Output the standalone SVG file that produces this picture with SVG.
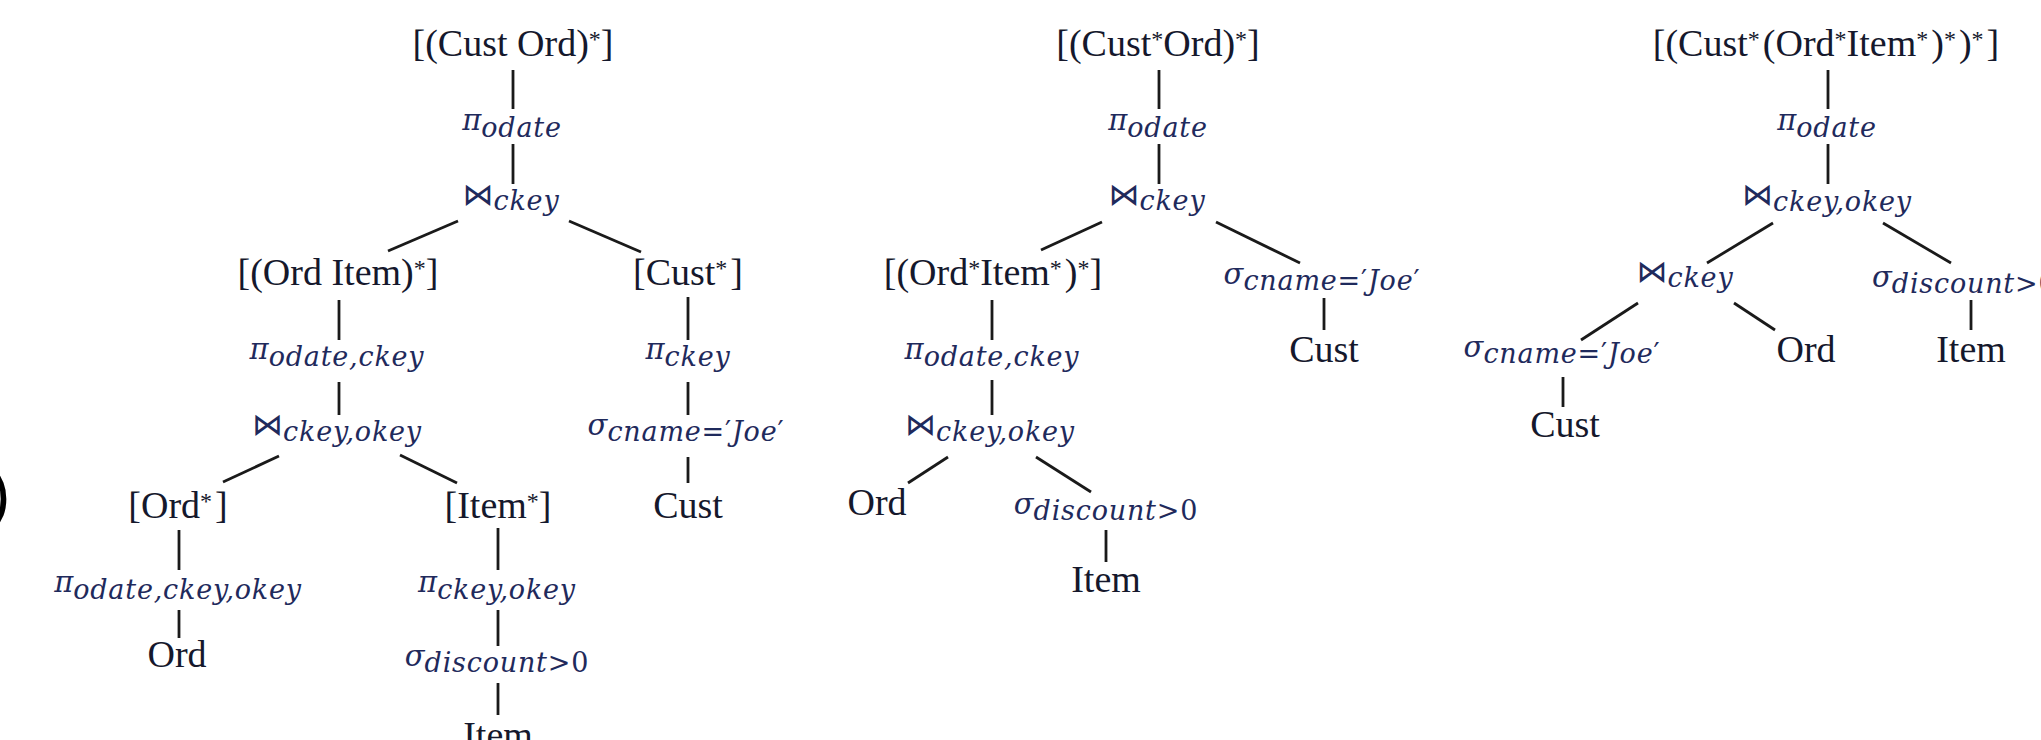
<svg xmlns="http://www.w3.org/2000/svg" width="2041" height="740" viewBox="0 0 2041 740">
<style>
.r{font-family:"Liberation Serif","Times New Roman",serif;font-size:38px;fill:#15182c}
.st{font-size:24px}
.m{font-family:"DejaVu Serif",serif;font-size:29px;fill:#1f2a5c;font-style:italic}
.s{font-size:27px;font-style:italic;letter-spacing:0.8px}
.u{font-style:normal}
.bt{font-family:"DejaVu Sans",sans-serif;font-style:normal;font-size:31px}
.cut{font-family:"Liberation Sans",Arial,sans-serif;font-size:64px;fill:#000}
#connectors line{stroke:#1a1a1a;stroke-width:2.8;stroke-linecap:butt}
</style>
<rect width="2041" height="740" fill="#fff"/>
<g id="connectors">
<!-- tree 1 -->
<line x1="513" y1="70" x2="513" y2="109"/>
<line x1="513" y1="144" x2="513" y2="184"/>
<line x1="458" y1="221" x2="388" y2="251"/>
<line x1="569" y1="221" x2="641" y2="252"/>
<line x1="339" y1="300" x2="339" y2="340"/>
<line x1="339" y1="382" x2="339" y2="415"/>
<line x1="688" y1="297" x2="688" y2="340"/>
<line x1="688" y1="382" x2="688" y2="415"/>
<line x1="688" y1="457" x2="688" y2="483"/>
<line x1="279" y1="456" x2="223" y2="482"/>
<line x1="400" y1="455" x2="457" y2="483"/>
<line x1="179" y1="530" x2="179" y2="570"/>
<line x1="498" y1="528" x2="498" y2="570"/>
<line x1="179" y1="610" x2="179" y2="638"/>
<line x1="498" y1="610" x2="498" y2="646"/>
<line x1="498" y1="683" x2="498" y2="715"/>
<!-- tree 2 -->
<line x1="1159" y1="70" x2="1159" y2="109"/>
<line x1="1159" y1="144" x2="1159" y2="184"/>
<line x1="1102" y1="222" x2="1041" y2="250"/>
<line x1="1216" y1="222" x2="1300" y2="263"/>
<line x1="992" y1="300" x2="992" y2="340"/>
<line x1="992" y1="380" x2="992" y2="415"/>
<line x1="1324" y1="298" x2="1324" y2="330"/>
<line x1="948" y1="457" x2="908" y2="483"/>
<line x1="1036" y1="457" x2="1091" y2="492"/>
<line x1="1106" y1="530" x2="1106" y2="562"/>
<!-- tree 3 -->
<line x1="1828" y1="70" x2="1828" y2="109"/>
<line x1="1828" y1="144" x2="1828" y2="184"/>
<line x1="1773" y1="223" x2="1707" y2="263"/>
<line x1="1883" y1="223" x2="1951" y2="263"/>
<line x1="1638" y1="303" x2="1581" y2="340"/>
<line x1="1734" y1="303" x2="1775" y2="330"/>
<line x1="1971" y1="300" x2="1971" y2="330"/>
<line x1="1563" y1="377" x2="1563" y2="407"/>
</g>

<g id="cut-label"><text class="cut" x="-11" y="516">)</text></g>

<!-- Tree 1 -->
<g id="t1-root"><text class="r" x="513" y="56" text-anchor="middle">[(Cust Ord)<tspan class="st" dy="-9">*</tspan><tspan dy="9">]</tspan></text></g>
<g id="t1-proj"><text class="m" x="512" y="130" text-anchor="middle">π<tspan class="s" dy="7">odate</tspan></text></g>
<g id="t1-join"><text class="m" x="511" y="205" text-anchor="middle"><tspan class="bt">⋈</tspan><tspan class="s" dy="5">ckey</tspan></text></g>
<g id="t1-orditem"><text class="r" x="338" y="285" text-anchor="middle">[(Ord Item)<tspan class="st" dy="-9">*</tspan><tspan dy="9">]</tspan></text></g>
<g id="t1-custs"><text class="r" x="688" y="285" text-anchor="middle">[Cust<tspan class="st" dy="-9">*</tspan><tspan dy="9" dx="3">]</tspan></text></g>
<g id="t1-proj2"><text class="m" x="337" y="359" text-anchor="middle">π<tspan class="s" dy="7">odate,ckey</tspan></text></g>
<g id="t1-projckey"><text class="m" x="688" y="359" text-anchor="middle">π<tspan class="s" dy="7">ckey</tspan></text></g>
<g id="t1-join2"><text class="m" x="337" y="435" text-anchor="middle"><tspan class="bt">⋈</tspan><tspan class="s" dy="6">ckey,okey</tspan></text></g>
<g id="t1-selname"><text class="m" x="686" y="435" text-anchor="middle">σ<tspan class="s" dy="6">cname<tspan class="u">=′</tspan>Joe<tspan class="u">′</tspan></tspan></text></g>
<g id="t1-ords"><text class="r" x="178" y="518" text-anchor="middle">[Ord<tspan class="st" dy="-9">*</tspan><tspan dy="9" dx="3">]</tspan></text></g>
<g id="t1-items"><text class="r" x="498" y="518" text-anchor="middle">[Item<tspan class="st" dy="-9">*</tspan><tspan dy="9">]</tspan></text></g>
<g id="t1-cust"><text class="r" x="688" y="518" text-anchor="middle">Cust</text></g>
<g id="t1-proj3"><text class="m" x="178" y="592" text-anchor="middle">π<tspan class="s" dy="7">odate,ckey,okey</tspan></text></g>
<g id="t1-proj4"><text class="m" x="497" y="592" text-anchor="middle">π<tspan class="s" dy="7">ckey,okey</tspan></text></g>
<g id="t1-ord"><text class="r" x="177" y="667" text-anchor="middle">Ord</text></g>
<g id="t1-seldisc"><text class="m" x="497" y="666" text-anchor="middle">σ<tspan class="s" dy="6">discount<tspan class="u">&gt;0</tspan></tspan></text></g>
<g id="t1-item"><text class="r" x="498" y="748" text-anchor="middle">Item</text></g>

<!-- Tree 2 -->
<g id="t2-root"><text class="r" x="1158" y="56" text-anchor="middle">[(Cust<tspan class="st" dy="-9">*</tspan><tspan dy="9">Ord)</tspan><tspan class="st" dy="-9">*</tspan><tspan dy="9">]</tspan></text></g>
<g id="t2-proj"><text class="m" x="1158" y="130" text-anchor="middle">π<tspan class="s" dy="7">odate</tspan></text></g>
<g id="t2-join"><text class="m" x="1157" y="205" text-anchor="middle"><tspan class="bt">⋈</tspan><tspan class="s" dy="5">ckey</tspan></text></g>
<g id="t2-orditem"><text class="r" x="993" y="285" text-anchor="middle">[(Ord<tspan class="st" dy="-9">*</tspan><tspan dy="9">Item</tspan><tspan class="st" dy="-9">*</tspan><tspan dy="9" dx="3">)</tspan><tspan class="st" dy="-9">*</tspan><tspan dy="9">]</tspan></text></g>
<g id="t2-selname"><text class="m" x="1322" y="284" text-anchor="middle">σ<tspan class="s" dy="6">cname<tspan class="u">=′</tspan>Joe<tspan class="u">′</tspan></tspan></text></g>
<g id="t2-proj2"><text class="m" x="992" y="359" text-anchor="middle">π<tspan class="s" dy="7">odate,ckey</tspan></text></g>
<g id="t2-cust"><text class="r" x="1324" y="362" text-anchor="middle">Cust</text></g>
<g id="t2-join2"><text class="m" x="990" y="435" text-anchor="middle"><tspan class="bt">⋈</tspan><tspan class="s" dy="6">ckey,okey</tspan></text></g>
<g id="t2-ord"><text class="r" x="877" y="515" text-anchor="middle">Ord</text></g>
<g id="t2-seldisc"><text class="m" x="1106" y="514" text-anchor="middle">σ<tspan class="s" dy="6">discount<tspan class="u">&gt;0</tspan></tspan></text></g>
<g id="t2-item"><text class="r" x="1106" y="592" text-anchor="middle">Item</text></g>

<!-- Tree 3 -->
<g id="t3-root"><text class="r" x="1826" y="56" text-anchor="middle">[(Cust<tspan class="st" dy="-9">*</tspan><tspan dy="9" dx="3">(Ord</tspan><tspan class="st" dy="-9">*</tspan><tspan dy="9">Item</tspan><tspan class="st" dy="-9">*</tspan><tspan dy="9" dx="3">)</tspan><tspan class="st" dy="-9">*</tspan><tspan dy="9" dx="3">)</tspan><tspan class="st" dy="-9">*</tspan><tspan dy="9" dx="3">]</tspan></text></g>
<g id="t3-proj"><text class="m" x="1827" y="130" text-anchor="middle">π<tspan class="s" dy="7">odate</tspan></text></g>
<g id="t3-join"><text class="m" x="1827" y="205" text-anchor="middle"><tspan class="bt">⋈</tspan><tspan class="s" dy="6">ckey,okey</tspan></text></g>
<g id="t3-join2"><text class="m" x="1685" y="282" text-anchor="middle"><tspan class="bt">⋈</tspan><tspan class="s" dy="5">ckey</tspan></text></g>
<g id="t3-seldisc"><text class="m" x="1872" y="287" text-anchor="start">σ<tspan class="s" dy="6">discount<tspan class="u">&gt;0</tspan></tspan></text></g>
<g id="t3-selname"><text class="m" x="1562" y="357" text-anchor="middle">σ<tspan class="s" dy="6">cname<tspan class="u">=′</tspan>Joe<tspan class="u">′</tspan></tspan></text></g>
<g id="t3-ord"><text class="r" x="1806" y="362" text-anchor="middle">Ord</text></g>
<g id="t3-item"><text class="r" x="1971" y="362" text-anchor="middle">Item</text></g>
<g id="t3-cust"><text class="r" x="1565" y="437" text-anchor="middle">Cust</text></g>
</svg>
